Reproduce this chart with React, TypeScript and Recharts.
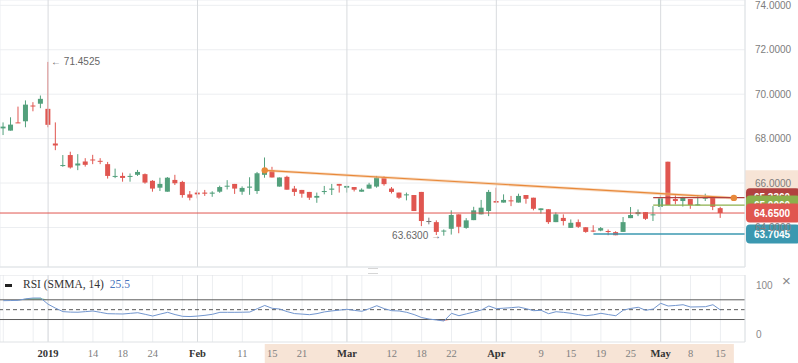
import React from "react";
import {
  ComposedChart,
  Bar,
  Line,
  Area,
  XAxis,
  YAxis,
  CartesianGrid,
  ReferenceLine,
  ReferenceArea,
  ReferenceDot,
} from "recharts";

// daily candles, Dec 2018 - May 15 2019 (one entry per trading day)
const opens = [
  68.46, 68.36, 68.73, 68.78, 69.49, 69.57, 69.34, 67.78, 66.77, 67.26,
  66.79, 66.97, 67.06, 67.0, 66.85, 66.28, 66.32, 66.29, 66.37, 66.4,
  66.1, 65.79, 65.61, 66.14, 66.05, 65.49, 65.57, 65.57, 65.52, 65.61,
  65.84, 65.96, 65.61, 65.79, 65.64, 66.37, 66.58, 65.84, 66.28, 65.75,
  65.69, 65.6, 65.34, 65.6, 65.7, 65.96, 65.79, 65.82, 65.61, 65.75,
  65.84, 66.25, 65.75, 65.57, 65.45, 65.46, 65.6, 64.29, 64.24, 63.82,
  63.94, 64.59, 63.98, 64.33, 64.59, 64.74, 65.19, 65.12, 65.22, 65.12,
  65.46, 65.34, 64.78, 64.82, 64.24, 64.43, 63.98, 64.24, 64.01, 63.86,
  63.86, 63.84, 63.79, 63.8, 64.42, 64.6, 64.69, 64.55, 64.93, 66.96,
  65.28, 65.19, 65.28, 65.01, 65.31, 65.33, 64.87,
];
const highs = [
  68.73, 68.96, 69.44, 69.72, 69.64, 69.94, 71.4525, 68.73, 67.26, 67.41,
  67.3, 67.12, 67.27, 67.12, 66.95, 66.65, 66.47, 66.43, 66.59, 66.43,
  66.13, 66.24, 66.27, 66.37, 66.1, 65.64, 65.69, 65.69, 65.63, 65.88,
  66.13, 65.96, 65.85, 66.26, 66.5, 67.15, 66.73, 66.25, 66.33, 65.87,
  65.69, 65.6, 65.57, 65.87, 65.96, 65.96, 65.87, 65.82, 65.76, 66.01,
  66.32, 66.31, 65.82, 65.57, 65.57, 65.46, 65.6, 64.44, 64.32, 63.91,
  64.77, 64.59, 64.42, 64.93, 65.24, 65.69, 65.79, 65.49, 65.42, 65.52,
  65.46, 65.34, 64.86, 64.82, 64.68, 64.59, 64.36, 64.36, 64.01, 64.1,
  64.02, 63.91, 63.83, 64.47, 64.92, 64.81, 64.69, 64.96, 65.49, 66.96,
  65.46, 65.38, 65.28, 65.46, 65.52, 65.33, 64.93,
];
const lows = [
  68.16, 68.36, 68.7, 68.51, 69.23, 69.37, 68.51, 67.48, 66.73, 66.65,
  66.58, 66.74, 66.85, 66.85, 66.2, 66.22, 66.06, 66.06, 66.32, 65.97,
  65.61, 65.64, 65.61, 65.91, 65.34, 65.22, 65.31, 65.42, 65.38, 65.56,
  65.71, 65.51, 65.47, 65.47, 65.51, 66.24, 66.25, 65.84, 65.7, 65.42,
  65.34, 65.24, 65.11, 65.49, 65.46, 65.57, 65.57, 65.62, 65.61, 65.75,
  65.79, 65.88, 65.53, 65.29, 65.22, 64.74, 64.06, 64.14, 63.66, 63.63,
  63.68, 63.74, 63.94, 64.33, 64.59, 64.51, 65.12, 65.12, 64.96, 65.12,
  65.07, 64.77, 64.62, 64.16, 64.24, 64.09, 63.98, 63.98, 63.76, 63.79,
  63.83, 63.65, 63.65, 63.8, 64.42, 64.51, 64.34, 64.29, 64.78, 65.01,
  65.04, 64.94, 64.84, 65.0, 65.19, 64.78, 64.43,
];
const closes = [
  68.54, 68.63, 68.7, 69.53, 69.46, 69.79, 68.62, 67.69, 66.81, 66.7,
  66.88, 66.82, 67.03, 66.96, 66.32, 66.32, 66.23, 66.32, 66.5, 66.02,
  65.75, 65.96, 66.24, 65.99, 65.46, 65.34, 65.49, 65.52, 65.57, 65.82,
  65.88, 65.75, 65.78, 65.84, 66.44, 66.55, 66.25, 66.25, 65.7, 65.6,
  65.52, 65.34, 65.42, 65.64, 65.75, 65.88, 65.87, 65.7, 65.7, 65.93,
  66.25, 65.95, 65.6, 65.34, 65.49, 64.74, 64.29, 64.29, 63.8, 63.86,
  64.56, 64.03, 64.32, 64.77, 64.89, 65.6, 65.12, 65.24, 65.18, 65.42,
  65.29, 64.84, 64.86, 64.24, 64.59, 64.29, 64.21, 64.03, 63.8, 63.82,
  63.97, 63.8, 63.65, 64.24, 64.56, 64.69, 64.39, 64.59, 65.31, 65.01,
  65.19, 65.33, 65.01, 65.04, 65.34, 64.93, 64.65,
];
const rsiValues = [
  68.2, 68.5, 68.8, 72, 73.6, 73.6, 61, 53, 46, 45,
  44.8, 46, 47.3, 44.5, 41.8, 41.5, 41.2, 42.5, 43.8, 40.5,
  37.1, 41, 44.6, 40, 36.5, 36, 37, 38.5, 40.6, 44.6,
  44.6, 44.6, 44.8, 45.2, 52, 58.5, 52.7, 51.3, 46, 42,
  41, 39.8, 42, 45.5, 47.5, 49, 50.7, 48.5, 46.7, 52,
  58, 52, 47.9, 47.3, 44.6, 40, 34, 31, 29, 27,
  42.6, 37.7, 41.5, 45.2, 49.3, 57.4, 52, 53, 54, 55.4,
  52, 47.9, 48.7, 41.8, 45.8, 44.5, 42.6, 40, 37.7, 39.5,
  42.6, 40, 37.7, 49, 52.5, 54.8, 48.7, 51.3, 62.9, 57.4,
  58.5, 60, 55.4, 55.7, 56, 60, 49.3,
];

// time axis (bar index -> label), months drawn bold
const tickIndex = [0, 4, 6, 8, 12, 16, 20, 24, 26, 28, 32, 36, 40, 44, 46, 48, 52, 56, 60, 64, 66, 68, 72, 76, 80, 84, 88, 92, 96];
const tickLabels = ["", "", "2019", "", "14", "18", "24", "", "Feb", "", "11", "15", "21", "", "Mar", "", "12", "18", "22", "", "Apr", "", "9", "15", "19", "25", "May", "8", "15"];
const monthIndex = [6, 26, 46, 66, 88];
const priceTicks = [64, 66, 68, 70, 72, 74];
const rsiTicks = [0, 100];

// drawings
const lastPrice = 64.65;
const trendStart = { x: 35, y: 66.57 };
const trendEnd = { x: 97.8, y: 65.33 };
const redLevel = { x: 87, y: 65.34, text: "65.3360" };
const greenLevel = { x: 87, y: 65.01, text: "65.0060" };
const blueLevel = { x: 79, y: 63.7045, text: "63.7045" };
const highMark = { x: 6, y: 71.4525 };
const lowMark = { x: 59, y: 63.63 };

const XMIN = -0.44;
const XMAX = 99.29;

const GREEN = "#53a07c";
const RED = "#e05650";
const GRID = "#eceef1";
const BORDER = "#dfe2e5";
const PEACH = "#f7e4d6";
const ORANGE = "#e8893a";

const data = opens.map((o, i) => ({
  i,
  open: o,
  high: highs[i],
  low: lows[i],
  close: closes[i],
  rsi: rsiValues[i],
}));

function Candle(props: any) {
  const { x, y, width, height, payload } = props;
  if (x == null || y == null || !payload) return null;
  const top = Math.min(y, y + height);
  const h = Math.abs(height);
  const { open, close, high, low } = payload;
  const k = high - low > 0 ? h / (high - low) : 0;
  const yO = top + (high - open) * k;
  const yC = top + (high - close) * k;
  const color = close > open ? GREEN : close < open ? RED : "#777";
  const cx = x + width / 2;
  return (
    <g>
      <line x1={cx} x2={cx} y1={top} y2={top + h} stroke={color} strokeWidth={1} />
      <rect x={cx - 2.5} y={Math.min(yO, yC)} width={5} height={Math.max(1, Math.abs(yC - yO))} fill={color} />
    </g>
  );
}

const tag = (text: string, fill: string) => (props: any) => {
  const vb = props.viewBox || {};
  const left = vb.x + vb.width + 1;
  return (
    <g>
      <rect x={left} y={vb.y - 9.5} width={54} height={19} rx={4} fill={fill} />
      <text x={left + 26} y={vb.y} dy="0.35em" textAnchor="middle" fill="#fff" fontSize={10} fontWeight="bold" fontFamily="Liberation Sans">
        {text}
      </text>
    </g>
  );
};

const markText = (text: string, anchor: "start" | "end") => (props: any) => {
  const vb = props.viewBox || {};
  return (
    <text x={anchor === "start" ? vb.x + 3 : vb.x - 3} y={vb.y} dy="0.35em" textAnchor={anchor} fill="#666" fontSize={10} fontFamily="Liberation Sans">
      {text}
    </text>
  );
};

function TimeTick(props: any) {
  const { x, y, payload } = props;
  const label = tickLabels[tickIndex.indexOf(payload.value)] || "";
  if (!label) return null;
  const month = monthIndex.includes(payload.value);
  return (
    <text x={x} y={y} dy={15} textAnchor="middle" fontFamily="Liberation Serif" fontSize={10.5} fontWeight={month ? "bold" : "normal"} fill={month ? "#333" : "#808080"}>
      {label}
    </text>
  );
}

const axisTick = { fill: "#7d7d7d", fontSize: 10, fontFamily: "Liberation Sans" };

export default function App() {
  return (
    <div style={{ position: "absolute", left: 0, top: 0, width: 798, height: 363, overflow: "hidden", background: "#fff" }}>
      <div style={{ position: "absolute", left: 0, top: 0 }}>
        <ComposedChart width={798} height={268} data={data} margin={{ top: 0, right: 0, bottom: 0, left: 0 }}>
          <CartesianGrid stroke={GRID} />
          <XAxis dataKey="i" type="number" domain={[XMIN, XMAX]} allowDataOverflow ticks={tickIndex} interval={0} tick={false} height={1} axisLine={{ stroke: BORDER }} tickLine={false} />
          <ReferenceArea x1={XMAX} x2={XMAX + 8} y1={trendEnd.y} y2={trendStart.y} fill={PEACH} fillOpacity={1} stroke="none" ifOverflow="visible" />
          <YAxis orientation="right" width={53} domain={[62.22, 74.24]} allowDataOverflow ticks={priceTicks} tickFormatter={(v: number) => v.toFixed(4)} tick={axisTick} tickLine={false} tickSize={0} tickMargin={10} axisLine={{ stroke: BORDER }} />
          {monthIndex.map((m) => (
            <ReferenceLine key={m} x={m} stroke="#d8dbde" />
          ))}
          <Bar dataKey={(d: any) => [d.low, d.high]} barSize={5} shape={Candle} isAnimationActive={false} />
          <ReferenceLine segment={[trendStart, trendEnd]} stroke="#f3c49c" strokeWidth={3} strokeOpacity={0.6} />
          <ReferenceLine segment={[trendStart, trendEnd]} stroke={ORANGE} strokeWidth={1.2} />
          <ReferenceDot x={trendStart.x} y={trendStart.y} r={3.2} fill={ORANGE} stroke="none" />
          <ReferenceDot x={trendEnd.x} y={trendEnd.y} r={3.2} fill={ORANGE} stroke="none" />
          <ReferenceLine segment={[{ x: redLevel.x, y: redLevel.y }, { x: XMAX, y: redLevel.y }]} stroke="#b1413f" strokeWidth={1.3} label={tag(redLevel.text, "#b1413f")} />
          <ReferenceLine segment={[{ x: greenLevel.x, y: greenLevel.y }, { x: XMAX, y: greenLevel.y }]} stroke="#8bb04c" strokeWidth={1.3} label={tag(greenLevel.text, "#8bb04c")} />
          <ReferenceLine y={lastPrice} stroke={RED} strokeWidth={1} label={tag(lastPrice.toFixed(4), RED)} />
          <ReferenceLine segment={[{ x: blueLevel.x, y: blueLevel.y }, { x: XMAX, y: blueLevel.y }]} stroke="#3b98b0" strokeWidth={1.3} label={tag(blueLevel.text, "#3b98b0")} />
          <ReferenceDot x={highMark.x} y={highMark.y} r={0} stroke="none" label={markText("\u2190 " + highMark.y.toFixed(4), "start")} />
          <ReferenceDot x={lowMark.x} y={lowMark.y} r={0} stroke="none" label={markText(lowMark.y.toFixed(4) + " \u2192", "end")} />
        </ComposedChart>
      </div>

      <div style={{ position: "absolute", left: 368, top: 268, width: 10, height: 4, borderTop: "1px solid #d6d6d6", borderBottom: "1px solid #d6d6d6" }} />

      <div style={{ position: "absolute", left: 0, top: 275 }}>
        <ComposedChart width={798} height={88} data={data} margin={{ top: 0, right: 0, bottom: 0, left: 0 }}>
          <CartesianGrid stroke={GRID} horizontal={false} />
          <ReferenceArea x1={trendStart.x} x2={trendEnd.x} y1={-80} y2={-19.7} fill={PEACH} fillOpacity={1} stroke="none" ifOverflow="visible" />
          <XAxis dataKey="i" type="number" domain={[XMIN, XMAX]} allowDataOverflow ticks={tickIndex} interval={0} tick={TimeTick} height={21} tickSize={0} tickMargin={0} tickLine={false} axisLine={{ stroke: BORDER }} />
          <YAxis orientation="right" width={53} domain={[-15.6, 120.3]} allowDataOverflow ticks={rsiTicks} tick={{ ...axisTick, fill: "#8a8a8a" }} tickLine={false} tickSize={0} tickMargin={11} axisLine={{ stroke: BORDER }} />
          {monthIndex.map((m) => (
            <ReferenceLine key={m} x={m} stroke="#d8dbde" />
          ))}
          <ReferenceLine y={120.3} stroke={BORDER} />
          <Area type="linear" dataKey={(d: any) => [70, Math.max(70, d.rsi)]} fill="#7cc98b" fillOpacity={0.8} stroke="none" isAnimationActive={false} />
          <Area type="linear" dataKey={(d: any) => [Math.min(30, d.rsi), 30]} fill="#d9706c" fillOpacity={0.8} stroke="none" isAnimationActive={false} />
          <ReferenceLine y={70} stroke="#5c5c5c" />
          <ReferenceLine y={30} stroke="#5c5c5c" />
          <ReferenceLine y={50} stroke="#5c5c5c" strokeDasharray="4 3" />
          <Line type="linear" dataKey="rsi" stroke="#7296cf" strokeWidth={1} dot={false} isAnimationActive={false} />
        </ComposedChart>
      </div>

      <div style={{ position: "absolute", left: 5, top: 284, width: 7, height: 3, background: "#222" }} />
      <div style={{ position: "absolute", left: 23, top: 278, fontFamily: "Liberation Serif", fontSize: 11.5, color: "#333", whiteSpace: "nowrap" }}>
        RSI (SMMA, 14)
        <span style={{ color: "#4a76bd", marginLeft: 6 }}>25.5</span>
      </div>
      <div style={{ position: "absolute", left: 782, top: 272, fontFamily: "Liberation Sans", fontSize: 15, color: "#8a8a8a" }}>×</div>
    </div>
  );
}
